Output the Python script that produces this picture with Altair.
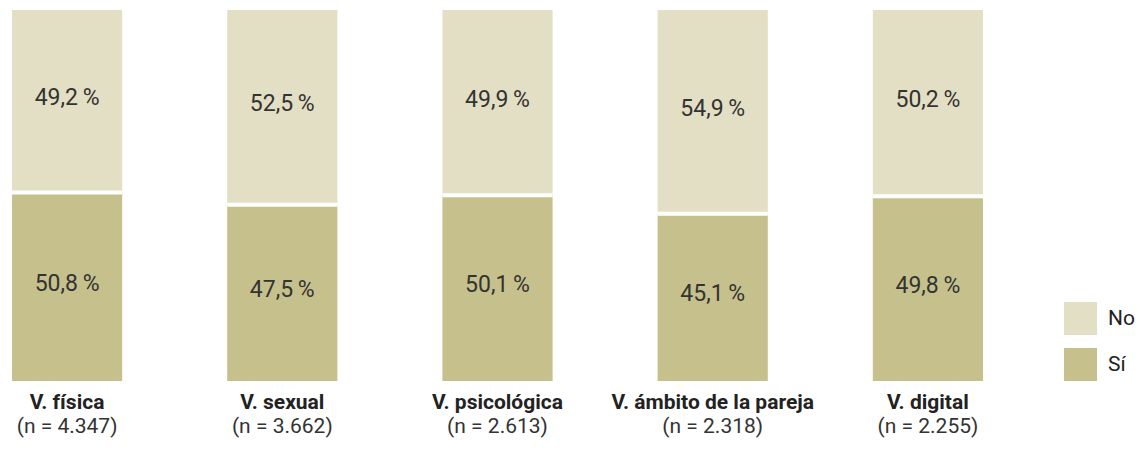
import altair as alt
import pandas as pd

categories = ["V. física", "V. sexual", "V. psicológica", "V. ámbito de la pareja", "V. digital"]
n_labels = ["(n = 4.347)", "(n = 3.662)", "(n = 2.613)", "(n = 2.318)", "(n = 2.255)"]
si_values = [50.8, 47.5, 50.1, 45.1, 49.8]
no_values = [49.2, 52.5, 49.9, 54.9, 50.2]
groups = ["No", "Sí"]
colors = ["#e3dfc4", "#c6c18c"]

FONT = "Roboto, sans-serif"

rows = []
for c, n, s, no in zip(categories, n_labels, si_values, no_values):
    rows.append({"cat": c, "n": n, "grp": "Sí", "val": s, "lo": 0.0, "hi": s})
    rows.append({"cat": c, "n": n, "grp": "No", "val": no, "lo": s, "hi": s + no})
df = pd.DataFrame(rows)
df["mid"] = (df["lo"] + df["hi"]) / 2
df["label"] = df["val"].map(lambda v: f"{v:.1f}".replace(".", ",") + "\u2009%")

xscale = alt.Scale(paddingInner=0.488, paddingOuter=0)
xenc = alt.X("cat:N", sort=categories, axis=None, scale=xscale)
yscale = alt.Scale(domain=[0, 100], nice=False)

base = alt.Chart(df)

bars = base.mark_bar().encode(
    x=xenc,
    y=alt.Y("lo:Q", scale=yscale, axis=None),
    y2="hi:Q",
    color=alt.Color("grp:N", scale=alt.Scale(domain=groups, range=colors),
                    legend=alt.Legend(title=None, orient="none", legendX=1052, legendY=292,
                                      symbolType="square", symbolSize=1089,
                                      symbolStrokeWidth=0, labelFontSize=21,
                                      labelFont=FONT, labelColor="#222222",
                                      labelOffset=11, rowPadding=13, padding=0)),
)

cat_df = df[df["grp"] == "Sí"]

sep = alt.Chart(cat_df).mark_rule(color="white", strokeWidth=4).encode(
    x=alt.X("cat:N", sort=categories, axis=None, scale=xscale, bandPosition=0),
    x2=alt.X2("cat:N", bandPosition=1),
    y=alt.Y("hi:Q", scale=yscale),
)

pct = base.mark_text(font=FONT, fontSize=23, color="#333333", baseline="middle", dy=-3).encode(
    x=xenc,
    y=alt.Y("mid:Q", scale=yscale),
    text="label:N",
)

cat_lbl = alt.Chart(cat_df).mark_text(font=FONT, fontSize=21, fontWeight="bold",
                                      color="#222222", baseline="alphabetic").encode(
    x=xenc, y=alt.value(399), text="cat:N")
n_lbl = alt.Chart(cat_df).mark_text(font=FONT, fontSize=21, color="#333333",
                                    baseline="alphabetic").encode(
    x=xenc, y=alt.value(423), text="n:N")

chart = alt.layer(bars, sep, pct, cat_lbl, n_lbl).properties(
    width=971, height=371,
    padding={"left": 4, "top": 2, "right": 154, "bottom": 57},
    autosize=alt.AutoSizeParams(type="none"),
).configure_view(stroke=None)

chart.save("out.html", embed_options={"renderer": "svg", "actions": False})
